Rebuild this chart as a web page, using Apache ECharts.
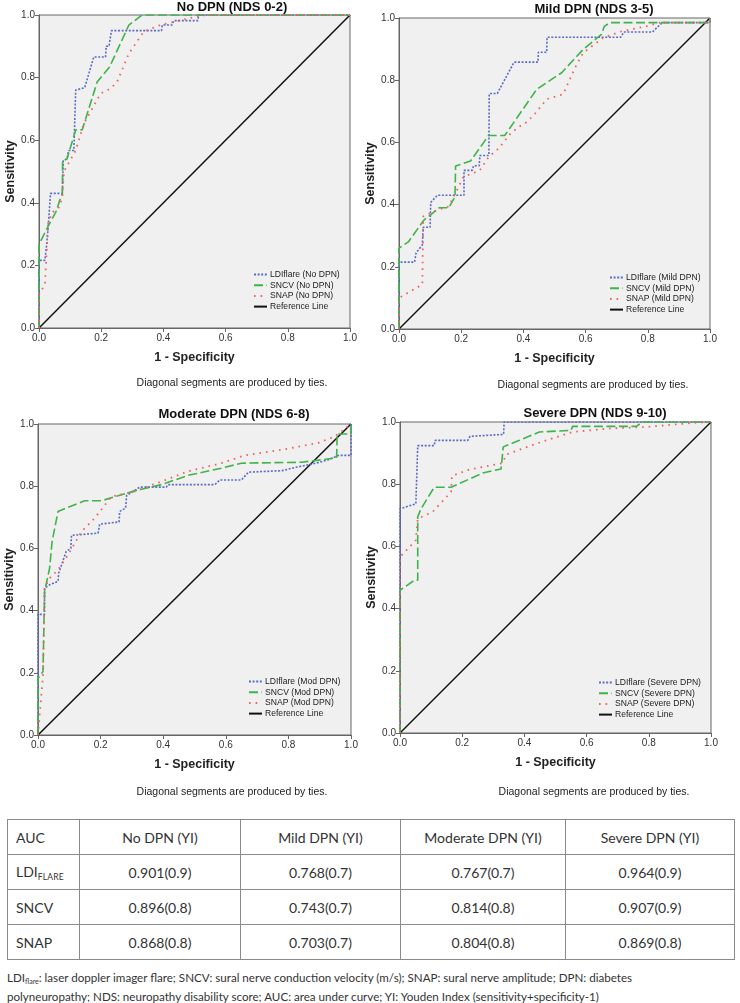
<!DOCTYPE html>
<html>
<head>
<meta charset="utf-8">
<script src="https://cdn.jsdelivr.net/npm/echarts@6/dist/echarts.min.js"></script>
<style>
  html, body { margin:0; padding:0; background:#fff; }
  #page { position:relative; width:740px; height:1003px; overflow:hidden; }
  #chart { position:absolute; left:0; top:0; width:740px; height:810px; }
  #tbl { position:absolute; left:7px; top:819px; width:727px; border-collapse:collapse; table-layout:fixed;
         font-family:Lato, "Open Sans", sans-serif; font-size:14px; color:#333; }
  #tbl td { border:1px solid #8a8a8a; height:35px; padding:0; text-align:center; box-sizing:border-box; }
  #tbl td.first { text-align:left; padding-left:8px; }
  #tbl sub { font-size:8.5px; vertical-align:-3px; letter-spacing:0.2px; }
  #note { position:absolute; left:7px; top:970px; width:730px; font-family:Lato, "Open Sans", sans-serif;
          font-size:11.6px; line-height:16px; color:#333; }
  #note sub { font-size:7px; vertical-align:-2px; }
</style>
</head>
<body>
<div id="page">
  <div id="chart"></div>
  <table id="tbl"></table>
  <div id="note"></div>
</div>
<script>
// ---------- DATA ----------
const panelTitles = ['No DPN (NDS 0-2)', 'Mild DPN (NDS 3-5)', 'Moderate DPN (NDS 6-8)', 'Severe DPN (NDS 9-10)'];
const panelTags = ['No DPN', 'Mild DPN', 'Mod DPN', 'Severe DPN'];
const measureNames = ['LDIflare', 'SNCV', 'SNAP'];
const refName = 'Reference Line';
const refLine = [[0, 0], [1, 1]];
const noteText = 'Diagonal segments are produced by ties.';
const xName = '1 - Specificity';
const yName = 'Sensitivity';

// No DPN
const noLdi = [[0,0],[0,0.216],[0.019,0.216],[0.025,0.27],[0.03,0.33],[0.037,0.43],[0.075,0.43],[0.078,0.535],[0.09,0.54],[0.095,0.567],[0.112,0.567],[0.118,0.76],[0.147,0.768],[0.176,0.866],[0.214,0.866],[0.216,0.9],[0.225,0.9],[0.233,0.95],[0.394,0.95],[0.396,0.968],[0.428,0.968],[0.433,0.982],[0.511,0.982],[0.513,1],[1,1]];
const noSncv = [[0,0],[0,0.267],[0.032,0.33],[0.056,0.374],[0.066,0.406],[0.075,0.428],[0.076,0.535],[0.09,0.54],[0.118,0.633],[0.139,0.633],[0.187,0.786],[0.227,0.834],[0.289,0.968],[0.332,1],[1,1]];
const noSnap = [[0,0],[0,0.107],[0.019,0.139],[0.03,0.34],[0.043,0.37],[0.064,0.385],[0.075,0.417],[0.08,0.5],[0.118,0.567],[0.144,0.652],[0.198,0.749],[0.23,0.765],[0.251,0.786],[0.289,0.877],[0.337,0.947],[0.39,0.968],[0.46,0.984],[0.513,0.997],[0.545,1],[1,1]];

// Mild DPN
const mildLdi = [[0,0],[0,0.215],[0.05,0.215],[0.055,0.245],[0.075,0.27],[0.078,0.327],[0.1,0.327],[0.102,0.407],[0.123,0.43],[0.209,0.43],[0.209,0.51],[0.235,0.51],[0.24,0.525],[0.258,0.525],[0.26,0.558],[0.289,0.558],[0.29,0.757],[0.316,0.757],[0.37,0.858],[0.447,0.858],[0.448,0.89],[0.475,0.89],[0.476,0.938],[0.713,0.938],[0.723,0.955],[0.815,0.955],[0.83,0.97],[0.847,0.985],[1,0.985],[1,1]];
const mildSncv = [[0,0],[0,0.26],[0.03,0.28],[0.08,0.35],[0.13,0.39],[0.16,0.39],[0.18,0.425],[0.182,0.524],[0.23,0.54],[0.288,0.622],[0.34,0.622],[0.443,0.771],[0.523,0.824],[0.592,0.899],[0.651,0.947],[0.66,0.973],[0.678,0.985],[1,0.985],[1,1]];
const mildSnap = [[0,0],[0,0.1],[0.075,0.143],[0.078,0.362],[0.123,0.383],[0.16,0.394],[0.208,0.49],[0.235,0.5],[0.26,0.51],[0.288,0.553],[0.32,0.58],[0.358,0.628],[0.384,0.649],[0.41,0.665],[0.432,0.686],[0.475,0.739],[0.528,0.755],[0.566,0.84],[0.592,0.888],[0.656,0.936],[0.715,0.957],[0.795,0.973],[0.838,0.985],[1,0.985],[1,1]];

// Moderate DPN
const modLdi = [[0,0],[0,0.388],[0.021,0.388],[0.021,0.472],[0.037,0.483],[0.064,0.494],[0.066,0.52],[0.09,0.59],[0.105,0.6],[0.107,0.642],[0.192,0.649],[0.197,0.678],[0.259,0.685],[0.261,0.719],[0.28,0.73],[0.283,0.77],[0.325,0.797],[0.41,0.797],[0.415,0.805],[0.565,0.805],[0.581,0.82],[0.65,0.82],[0.672,0.845],[0.78,0.85],[0.82,0.86],[0.88,0.872],[0.928,0.885],[0.96,0.899],[1,0.899],[1,1]];
const modSncv = [[0,0],[0,0.182],[0.016,0.204],[0.021,0.461],[0.037,0.536],[0.045,0.622],[0.064,0.719],[0.149,0.753],[0.202,0.753],[0.309,0.785],[0.394,0.805],[0.48,0.835],[0.586,0.858],[0.65,0.874],[0.842,0.877],[0.954,0.891],[0.956,0.968],[1,0.968],[1,1]];
const modSnap = [[0,0],[0.016,0.193],[0.021,0.472],[0.037,0.504],[0.064,0.531],[0.096,0.579],[0.139,0.654],[0.181,0.697],[0.235,0.767],[0.309,0.783],[0.394,0.815],[0.48,0.848],[0.586,0.874],[0.66,0.899],[0.778,0.917],[0.895,0.939],[0.949,0.96],[1,1]];

// Severe DPN
const sevLdi = [[0,0],[0,0.721],[0.051,0.737],[0.057,0.924],[0.11,0.924],[0.113,0.941],[0.218,0.941],[0.225,0.954],[0.333,0.96],[0.335,1],[1,1]];
const sevSncv = [[0,0],[0,0.459],[0.046,0.491],[0.057,0.491],[0.057,0.695],[0.067,0.72],[0.11,0.79],[0.164,0.79],[0.266,0.836],[0.325,0.849],[0.332,0.92],[0.384,0.941],[0.448,0.968],[0.55,0.973],[0.555,0.986],[0.76,0.986],[0.78,1],[1,1]];
const sevSnap = [[0,0],[0,0.566],[0.051,0.62],[0.057,0.689],[0.105,0.711],[0.164,0.775],[0.167,0.827],[0.223,0.847],[0.33,0.868],[0.341,0.895],[0.437,0.93],[0.555,0.968],[0.673,0.979],[0.792,0.984],[0.952,0.998],[1,1]];

// Table
const tableHeader = ['AUC', 'No DPN (YI)', 'Mild DPN (YI)', 'Moderate DPN (YI)', 'Severe DPN (YI)'];
const tableRowLabels = ['LDI<sub>FLARE</sub>', 'SNCV', 'SNAP'];
const aucLdi  = ['0.901(0.9)', '0.768(0.7)', '0.767(0.7)', '0.964(0.9)'];
const aucSncv = ['0.896(0.8)', '0.743(0.7)', '0.814(0.8)', '0.907(0.9)'];
const aucSnap = ['0.868(0.8)', '0.703(0.7)', '0.804(0.8)', '0.869(0.8)'];
const footnoteLines = [
  'LDI<sub>flare</sub>: laser doppler imager flare; SNCV: sural nerve conduction velocity (m/s); SNAP: sural nerve amplitude; DPN: diabetes',
  'polyneuropathy; NDS: neuropathy disability score; AUC: area under curve; YI: Youden Index (sensitivity+specificity-1)'
];

// ---------- LAYOUT / STYLE ----------
const panelData = [[noLdi, noSncv, noSnap], [mildLdi, mildSncv, mildSnap], [modLdi, modSncv, modSnap], [sevLdi, sevSncv, sevSnap]];
const layout = [
  { grid: {left:39, top:15, width:311, height:313}, title:[232, 7], note:[232, 383], legend:{left:253, top:270} },
  { grid: {left:399, top:18, width:311, height:311}, title:[594, 9], note:[593, 385], legend:{left:609, top:273} },
  { grid: {left:38, top:424, width:313, height:311}, title:[234, 414], note:[232, 792], legend:{left:248, top:677} },
  { grid: {left:400, top:422, width:311, height:311}, title:[595, 413], note:[594, 792], legend:{left:598, top:678} }
];
const lineStyles = [
  { color:'#5b6cc6', width:1.6, type:[2, 1.6] },
  { color:'#3fb34a', width:1.6, type:[9, 3.5] },
  { color:'#f0605c', width:1.8, type:[1.6, 5] }
];
const refStyle = { color:'#111', width:1.5, type:'solid' };
const FONT = '"Liberation Sans", Arial, sans-serif';

const grids = [], xAxes = [], yAxes = [], series = [], legends = [], graphics = [];
layout.forEach((L, i) => {
  grids.push(Object.assign({ show:true, backgroundColor:'#f0f0f0', borderColor:'#666', borderWidth:1, containLabel:false }, L.grid));
  const axisCommon = {
    type:'value', min:0, max:1, interval:0.2, gridIndex:i,
    axisLine:{ show:true, lineStyle:{ color:'#666', width:1 } },
    axisTick:{ show:true, inside:false, length:4, lineStyle:{ color:'#666' } },
    splitLine:{ show:false },
    axisLabel:{ fontFamily:FONT, fontSize:10, color:'#333', formatter: v => v.toFixed(1) },
    nameLocation:'middle',
    nameTextStyle:{ fontFamily:FONT, fontSize:12.5, fontWeight:'bold', color:'#222' }
  };
  xAxes.push(Object.assign({}, axisCommon, { name:xName, nameGap:23, axisLabel:Object.assign({}, axisCommon.axisLabel, {margin:5}) }));
  yAxes.push(Object.assign({}, axisCommon, { name:yName, nameGap:19, nameRotate:90, axisLabel:Object.assign({}, axisCommon.axisLabel, {margin:4}) }));
  const names = [];
  panelData[i].forEach((d, k) => {
    const nm = measureNames[k] + ' (' + panelTags[i] + ')';
    names.push(nm);
    series.push({ type:'line', name:nm, xAxisIndex:i, yAxisIndex:i, data:d, symbol:'none', silent:true,
                  lineStyle:lineStyles[k], itemStyle:{ color:lineStyles[k].color }, z:3 + k, animation:false });
  });
  series.push({ type:'line', name:refName, xAxisIndex:i, yAxisIndex:i, data:refLine, symbol:'none', silent:true,
                lineStyle:refStyle, itemStyle:{ color:refStyle.color }, z:2, animation:false });
  names.push(refName);
  legends.push({ data:names, orient:'vertical', left:L.legend.left, top:L.legend.top, padding:0,
                 itemWidth:13, itemHeight:8, itemGap:1.7, selectedMode:false,
                 itemStyle:{ color:'rgba(0,0,0,0)', borderColor:'rgba(0,0,0,0)', borderWidth:0, opacity:0 },
                 textStyle:{ fontFamily:FONT, fontSize:8.6, lineHeight:9, color:'#222', padding:[0,0,0,-2] } });
  graphics.push({ type:'text', x:L.title[0], y:L.title[1], style:{ text:panelTitles[i], font:'bold 13px ' + FONT, fill:'#111', align:'center', verticalAlign:'middle' } });
  graphics.push({ type:'text', x:L.note[0], y:L.note[1], style:{ text:noteText, font:'10.5px ' + FONT, fill:'#222', align:'center', verticalAlign:'middle' } });
});

const chart = echarts.init(document.getElementById('chart'), null, { renderer:'canvas' });
chart.setOption({
  animation:false,
  grid:grids, xAxis:xAxes, yAxis:yAxes, series:series, legend:legends, graphic:graphics
});

// ---------- TABLE ----------
const tbl = document.getElementById('tbl');
const colWidths = [72, 161, 160, 165, 169];
let html = '<colgroup>' + colWidths.map(w => '<col style="width:' + w + 'px">').join('') + '</colgroup>';
html += '<tr>' + tableHeader.map((h, j) => '<td' + (j === 0 ? ' class="first"' : '') + '>' + h + '</td>').join('') + '</tr>';
[aucLdi, aucSncv, aucSnap].forEach((row, r) => {
  html += '<tr><td class="first">' + tableRowLabels[r] + '</td>' + row.map(v => '<td>' + v + '</td>').join('') + '</tr>';
});
tbl.innerHTML = html;
document.getElementById('note').innerHTML = footnoteLines.join('<br>');
</script>
</body>
</html>
